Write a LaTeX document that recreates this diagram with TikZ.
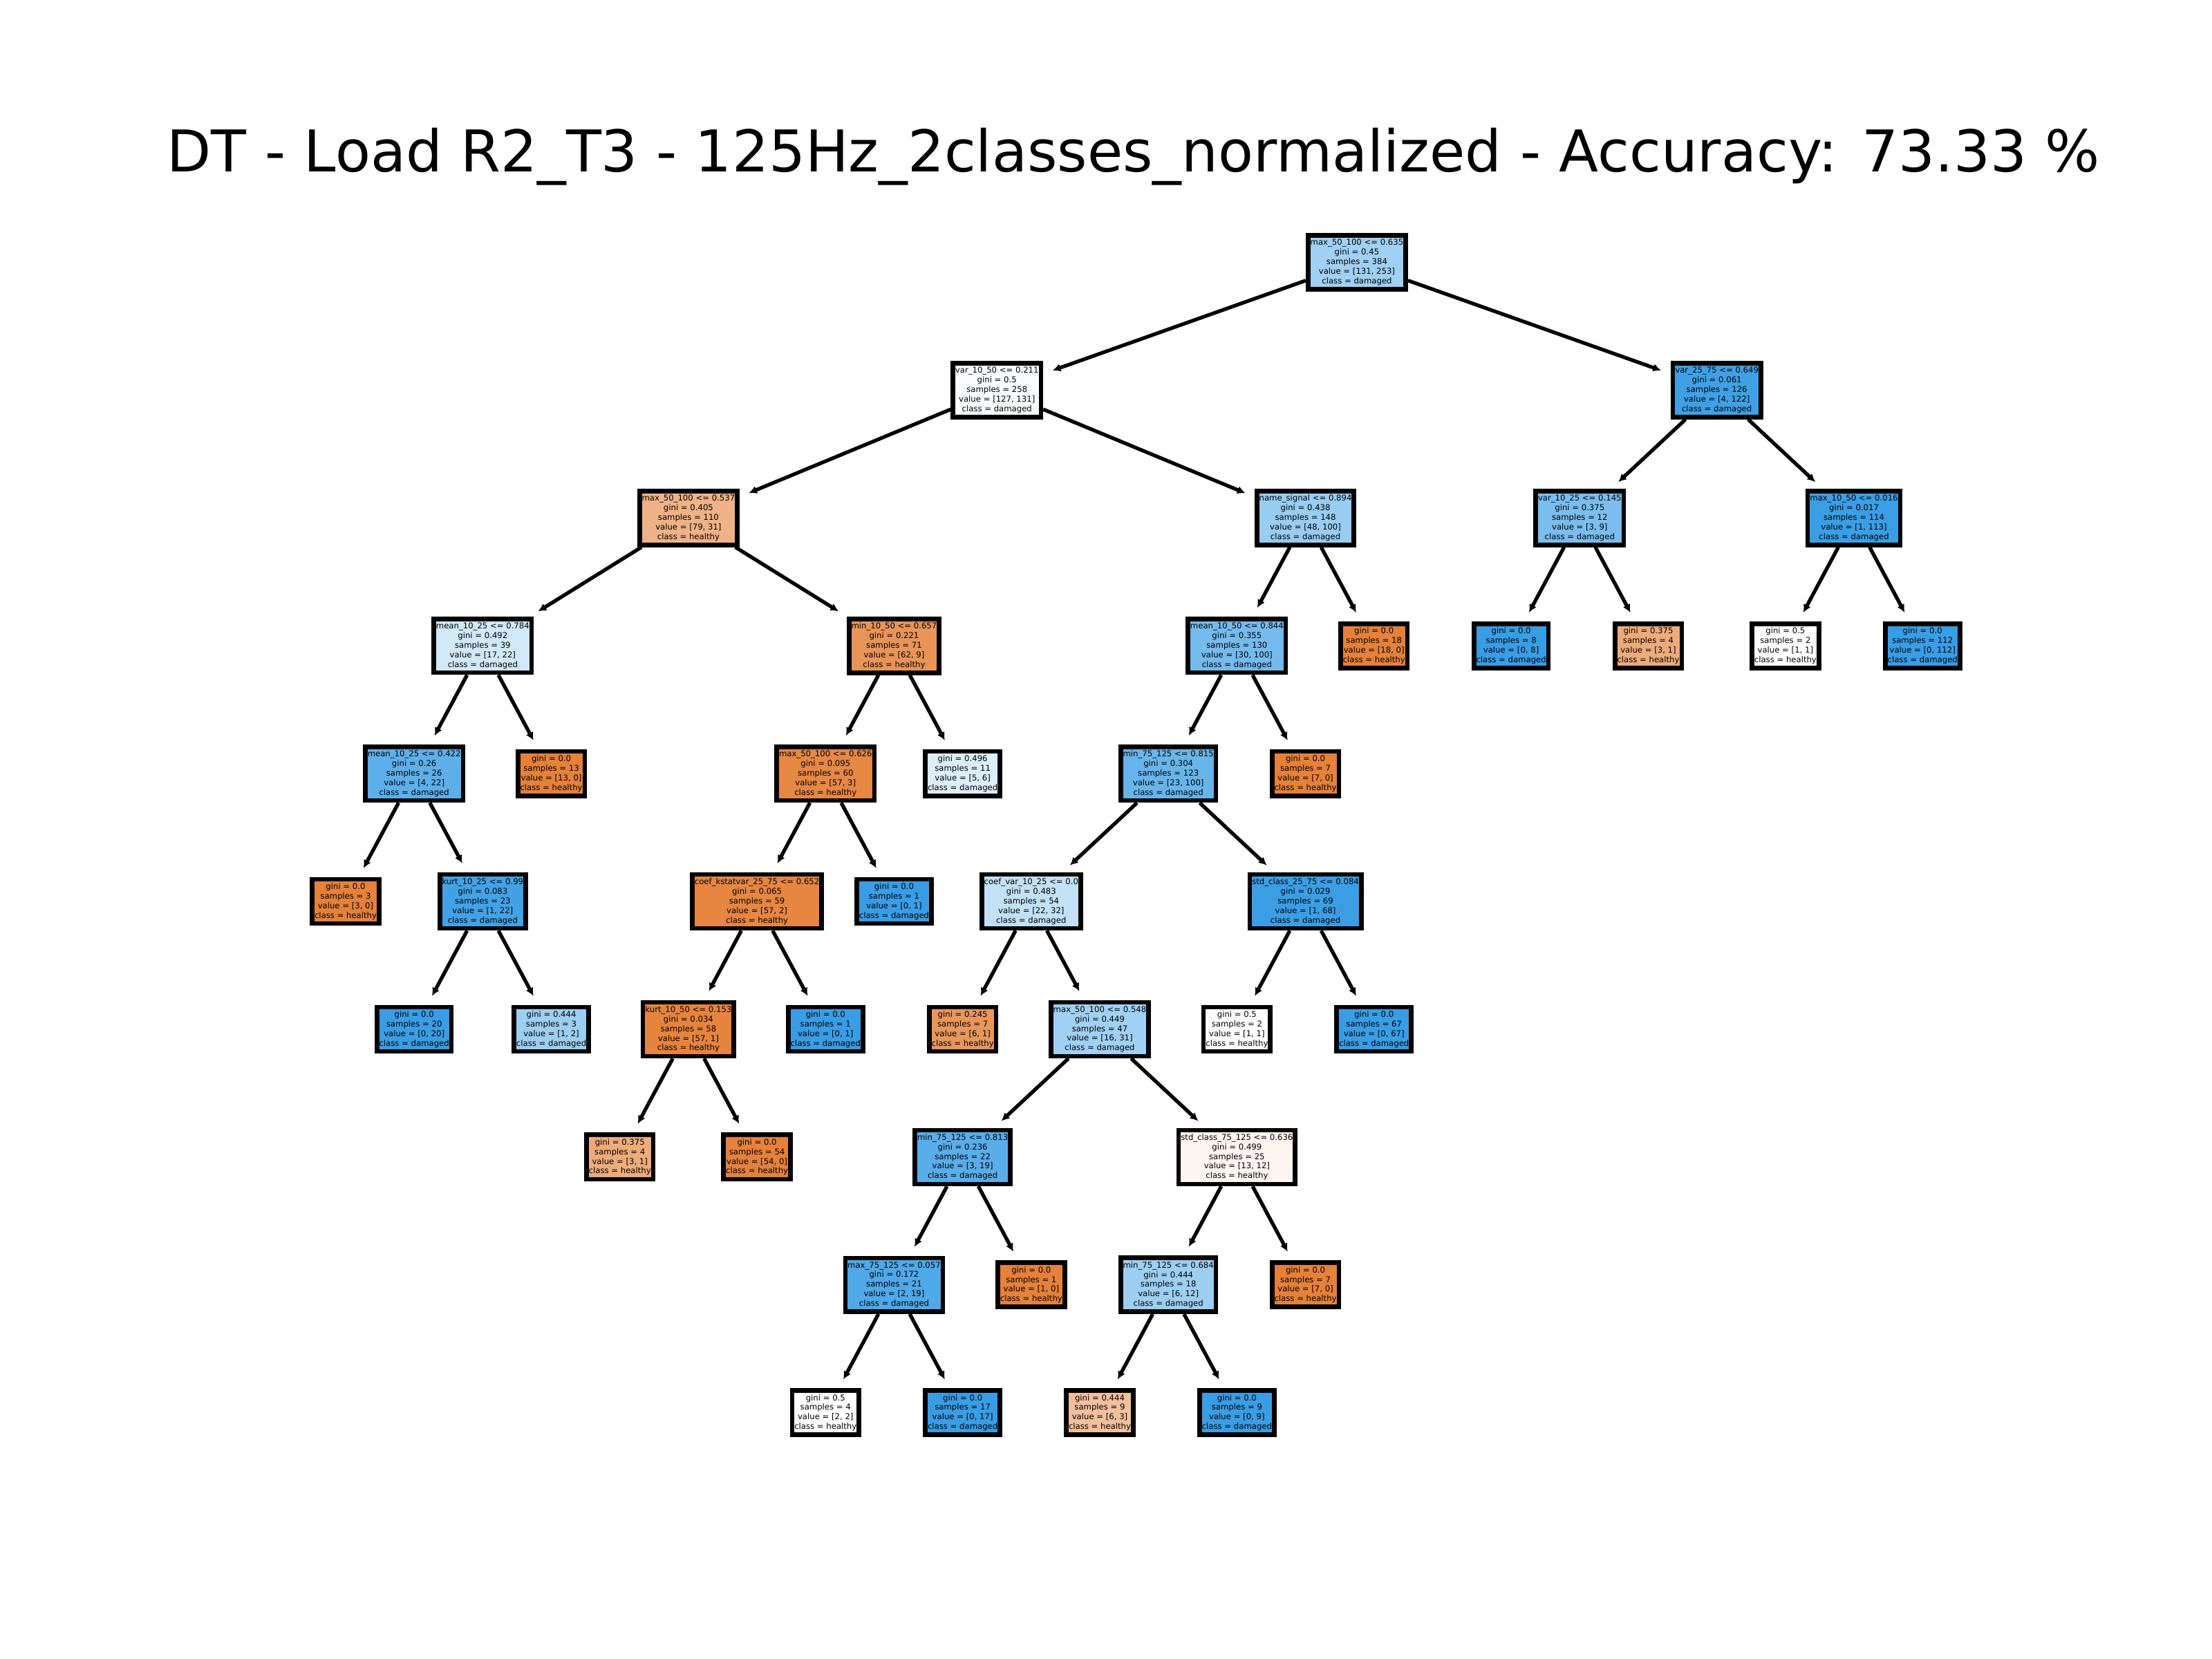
\documentclass[tikz,border=0pt]{standalone}
\usepackage{fontspec}
\setmainfont{DejaVu Sans}
\usetikzlibrary{arrows.meta}

\definecolor{hC}{RGB}{229,129,57}
\definecolor{dC}{RGB}{57,157,229}

% split node: feature, threshold, gini, samples, value, class
\newcommand{\splitlbl}[6]{#1 <= #2\\gini = #3\\samples = #4\\value = [#5]\\class = #6}
% leaf node: gini, samples, value, class
\newcommand{\leaflbl}[4]{gini = #1\\samples = #2\\value = [#3]\\class = #4}

\tikzset{
  tn/.style={draw=black, line width=1.2pt, inner xsep=0.6pt, inner ysep=1.0pt,
    align=center, font=\fontsize{2.1pt}{2.5pt}\selectfont},
  edge/.style={line width=0.95pt, shorten >=2.6pt,
    -{Latex[length=2.1pt,width=2.1pt]}}
}

\begin{document}
\begin{tikzpicture}[x=0.3673pt, y=-0.3673pt]
\fill[white] (0,0) rectangle (1568,1176);
\useasboundingbox (0,0) rectangle (1568,1176);

\def\gx#1{245+48.6*#1}
\def\gy#1{186+90.6*#1}

\node[anchor=base, font=\fontsize{15pt}{18pt}\selectfont] (title) at (803.5,122)
  {DT - Load R2\_T3 - 125Hz\_2classes\_normalized - Accuracy: 73.33 \%};

% depth 0-2
\node[tn, fill=dC!48] (n0) at ({\gx{14.75}},{\gy{0}}) {\splitlbl{max\_50\_100}{0.635}{0.45}{384}{131, 253}{damaged}};
\node[tn, fill=dC!3]  (n1) at ({\gx{9.5}},{\gy{1}}) {\splitlbl{var\_10\_50}{0.211}{0.5}{258}{127, 131}{damaged}};
\node[tn, fill=dC!97] (n2) at ({\gx{20}},{\gy{1}}) {\splitlbl{var\_25\_75}{0.649}{0.061}{126}{4, 122}{damaged}};
\node[tn, fill=hC!61] (n3) at ({\gx{5}},{\gy{2}}) {\splitlbl{max\_50\_100}{0.537}{0.405}{110}{79, 31}{healthy}};
\node[tn, fill=dC!52] (n4) at ({\gx{14}},{\gy{2}}) {\splitlbl{name\_signal}{0.894}{0.438}{148}{48, 100}{damaged}};
\node[tn, fill=dC!67] (n5) at ({\gx{18}},{\gy{2}}) {\splitlbl{var\_10\_25}{0.145}{0.375}{12}{3, 9}{damaged}};
\node[tn, fill=dC!99] (n6) at ({\gx{22}},{\gy{2}}) {\splitlbl{max\_10\_50}{0.016}{0.017}{114}{1, 113}{damaged}};

% depth 3
\node[tn, fill=dC!23] (n7)  at ({\gx{2}},{\gy{3}}) {\splitlbl{mean\_10\_25}{0.784}{0.492}{39}{17, 22}{damaged}};
\node[tn, fill=hC!85] (n8)  at ({\gx{8}},{\gy{3}}) {\splitlbl{min\_10\_50}{0.657}{0.221}{71}{62, 9}{healthy}};
\node[tn, fill=dC!70] (n9)  at ({\gx{13}},{\gy{3}}) {\splitlbl{mean\_10\_50}{0.844}{0.355}{130}{30, 100}{damaged}};
\node[tn, fill=hC]    (n10) at ({\gx{15}},{\gy{3}}) {\leaflbl{0.0}{18}{18, 0}{healthy}};
\node[tn, fill=dC]    (n11) at ({\gx{17}},{\gy{3}}) {\leaflbl{0.0}{8}{0, 8}{damaged}};
\node[tn, fill=hC!67] (n12) at ({\gx{19}},{\gy{3}}) {\leaflbl{0.375}{4}{3, 1}{healthy}};
\node[tn, fill=white] (n13) at ({\gx{21}},{\gy{3}}) {\leaflbl{0.5}{2}{1, 1}{healthy}};
\node[tn, fill=dC]    (n14) at ({\gx{23}},{\gy{3}}) {\leaflbl{0.0}{112}{0, 112}{damaged}};

% depth 4
\node[tn, fill=dC!82] (n15) at ({\gx{1}},{\gy{4}}) {\splitlbl{mean\_10\_25}{0.422}{0.26}{26}{4, 22}{damaged}};
\node[tn, fill=hC]    (n16) at ({\gx{3}},{\gy{4}}) {\leaflbl{0.0}{13}{13, 0}{healthy}};
\node[tn, fill=hC!95] (n17) at ({\gx{7}},{\gy{4}}) {\splitlbl{max\_50\_100}{0.626}{0.095}{60}{57, 3}{healthy}};
\node[tn, fill=dC!17] (n18) at ({\gx{9}},{\gy{4}}) {\leaflbl{0.496}{11}{5, 6}{damaged}};
\node[tn, fill=dC!77] (n19) at ({\gx{12}},{\gy{4}}) {\splitlbl{min\_75\_125}{0.815}{0.304}{123}{23, 100}{damaged}};
\node[tn, fill=hC]    (n20) at ({\gx{14}},{\gy{4}}) {\leaflbl{0.0}{7}{7, 0}{healthy}};

% depth 5
\node[tn, fill=hC]    (n21) at ({\gx{0}},{\gy{5}}) {\leaflbl{0.0}{3}{3, 0}{healthy}};
\node[tn, fill=dC!95] (n22) at ({\gx{2}},{\gy{5}}) {\splitlbl{kurt\_10\_25}{0.99}{0.083}{23}{1, 22}{damaged}};
\node[tn, fill=hC!96] (n23) at ({\gx{6}},{\gy{5}}) {\splitlbl{coef\_kstatvar\_25\_75}{0.652}{0.065}{59}{57, 2}{healthy}};
\node[tn, fill=dC]    (n24) at ({\gx{8}},{\gy{5}}) {\leaflbl{0.0}{1}{0, 1}{damaged}};
\node[tn, fill=dC!31] (n25) at ({\gx{10}},{\gy{5}}) {\splitlbl{coef\_var\_10\_25}{0.0}{0.483}{54}{22, 32}{damaged}};
\node[tn, fill=dC!99] (n26) at ({\gx{14}},{\gy{5}}) {\splitlbl{std\_class\_25\_75}{0.084}{0.029}{69}{1, 68}{damaged}};

% depth 6
\node[tn, fill=dC]    (n27) at ({\gx{1}},{\gy{6}}) {\leaflbl{0.0}{20}{0, 20}{damaged}};
\node[tn, fill=dC!50] (n28) at ({\gx{3}},{\gy{6}}) {\leaflbl{0.444}{3}{1, 2}{damaged}};
\node[tn, fill=hC!98] (n29) at ({\gx{5}},{\gy{6}}) {\splitlbl{kurt\_10\_50}{0.153}{0.034}{58}{57, 1}{healthy}};
\node[tn, fill=dC]    (n30) at ({\gx{7}},{\gy{6}}) {\leaflbl{0.0}{1}{0, 1}{damaged}};
\node[tn, fill=hC!83] (n31) at ({\gx{9}},{\gy{6}}) {\leaflbl{0.245}{7}{6, 1}{healthy}};
\node[tn, fill=dC!48] (n32) at ({\gx{11}},{\gy{6}}) {\splitlbl{max\_50\_100}{0.548}{0.449}{47}{16, 31}{damaged}};
\node[tn, fill=white] (n33) at ({\gx{13}},{\gy{6}}) {\leaflbl{0.5}{2}{1, 1}{healthy}};
\node[tn, fill=dC]    (n34) at ({\gx{15}},{\gy{6}}) {\leaflbl{0.0}{67}{0, 67}{damaged}};

% depth 7
\node[tn, fill=hC!67] (n35) at ({\gx{4}},{\gy{7}}) {\leaflbl{0.375}{4}{3, 1}{healthy}};
\node[tn, fill=hC]    (n36) at ({\gx{6}},{\gy{7}}) {\leaflbl{0.0}{54}{54, 0}{healthy}};
\node[tn, fill=dC!84] (n37) at ({\gx{9}},{\gy{7}}) {\splitlbl{min\_75\_125}{0.813}{0.236}{22}{3, 19}{damaged}};
\node[tn, fill=hC!8]  (n38) at ({\gx{13}},{\gy{7}}) {\splitlbl{std\_class\_75\_125}{0.636}{0.499}{25}{13, 12}{healthy}};

% depth 8
\node[tn, fill=dC!89] (n39) at ({\gx{8}},{\gy{8}}) {\splitlbl{max\_75\_125}{0.057}{0.172}{21}{2, 19}{damaged}};
\node[tn, fill=hC]    (n40) at ({\gx{10}},{\gy{8}}) {\leaflbl{0.0}{1}{1, 0}{healthy}};
\node[tn, fill=dC!50] (n41) at ({\gx{12}},{\gy{8}}) {\splitlbl{min\_75\_125}{0.684}{0.444}{18}{6, 12}{damaged}};
\node[tn, fill=hC]    (n42) at ({\gx{14}},{\gy{8}}) {\leaflbl{0.0}{7}{7, 0}{healthy}};

% depth 9
\node[tn, fill=white] (n43) at ({\gx{7}},{\gy{9}}) {\leaflbl{0.5}{4}{2, 2}{healthy}};
\node[tn, fill=dC]    (n44) at ({\gx{9}},{\gy{9}}) {\leaflbl{0.0}{17}{0, 17}{damaged}};
\node[tn, fill=hC!50] (n45) at ({\gx{11}},{\gy{9}}) {\leaflbl{0.444}{9}{6, 3}{healthy}};
\node[tn, fill=dC]    (n46) at ({\gx{13}},{\gy{9}}) {\leaflbl{0.0}{9}{0, 9}{damaged}};

% parent -> child edges
\foreach \p/\c in {n0/n1, n0/n2, n1/n3, n1/n4, n2/n5, n2/n6, n3/n7, n3/n8,
  n4/n9, n4/n10, n5/n11, n5/n12, n6/n13, n6/n14, n7/n15, n7/n16, n8/n17, n8/n18,
  n9/n19, n9/n20, n15/n21, n15/n22, n17/n23, n17/n24, n19/n25, n19/n26,
  n22/n27, n22/n28, n23/n29, n23/n30, n25/n31, n25/n32, n26/n33, n26/n34,
  n29/n35, n29/n36, n32/n37, n32/n38, n37/n39, n37/n40, n38/n41, n38/n42,
  n39/n43, n39/n44, n41/n45, n41/n46}
  \draw[edge] (\p) -- (\c);
\end{tikzpicture}
\end{document}
